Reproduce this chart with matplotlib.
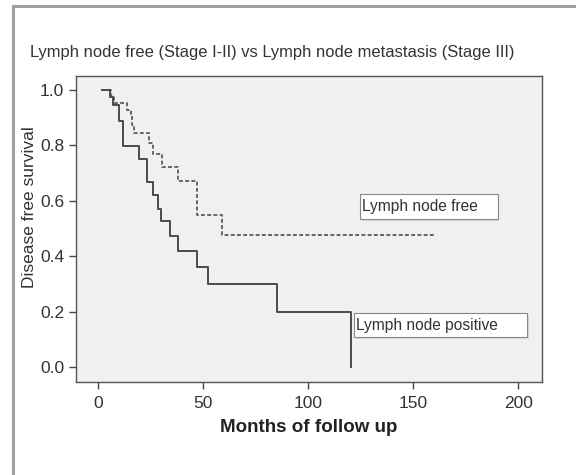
import matplotlib
matplotlib.use("Agg")
import matplotlib.pyplot as plt
from matplotlib.lines import Line2D
from matplotlib.patches import Rectangle

plt.rcParams['font.family'] = ['Liberation Sans', 'DejaVu Sans']

# Kaplan-Meier steps (months, survival)
free_months = [2, 6, 7.5, 13.5, 15.4, 16.2, 17.1, 24.2, 26.2, 30.2, 38.1, 46.8, 59.0, 160]
free_surv = [1.0, 0.977, 0.954, 0.928, 0.904, 0.874, 0.843, 0.807, 0.769, 0.721, 0.671, 0.549, 0.477, 0.477]

pos_months = [2, 5.6, 7.2, 9.9, 11.9, 19.4, 23.3, 25.9, 28.3, 29.9, 34.1, 38.1, 47.1, 52.1, 85.2, 120.2]
pos_surv = [1.0, 0.976, 0.946, 0.886, 0.796, 0.75, 0.667, 0.62, 0.57, 0.527, 0.473, 0.42, 0.36, 0.30, 0.20, 0.0]

xticks = [0, 50, 100, 150, 200]
yticks = [0.0, 0.2, 0.4, 0.6, 0.8, 1.0]

title = "Lymph node free (Stage I-II) vs Lymph node metastasis (Stage III)"
txt = '#333333'

fig = plt.figure(figsize=(5.76, 4.75), dpi=100)
ax = fig.add_axes([0.132, 0.196, 0.809, 0.644])
ax.set_facecolor('#f0f0f0')

ax.step(free_months, free_surv, where='post', color='#666666', lw=1.4,
        linestyle=(0, (2, 1.2)))
ax.step(pos_months, pos_surv, where='post', color='#4a4a4a', lw=1.4)

ax.set_xlim(-10.6, 211.3)
ax.set_ylim(-0.054, 1.05)
ax.set_xticks(xticks)
ax.set_yticks(yticks)
ax.set_yticklabels([f"{v:.1f}" for v in yticks])
ax.tick_params(colors='#444444', labelcolor=txt, labelsize=12.5, length=5, width=1)
ax.tick_params(axis='x', pad=5)
for s in ax.spines.values():
    s.set_color('#555555')
    s.set_linewidth(1)

ax.set_xlabel("Months of follow up", fontsize=13.5, fontweight='bold', color='#222222', labelpad=6)
ax.set_ylabel("Disease free survival", fontsize=12.5, color=txt)
ax.yaxis.set_label_coords(-0.083, 0.57)

# label boxes
def label_box(x, y, w, h, s):
    ax.add_patch(Rectangle((x + 0.003, y - 0.006), w, h, transform=ax.transAxes,
                           facecolor='#d8d8d8', edgecolor='none', zorder=4))
    ax.add_patch(Rectangle((x, y), w, h, transform=ax.transAxes,
                           facecolor='white', edgecolor='#888888', lw=0.8, zorder=5))
    ax.text(x + 0.004, y + h / 2, s, transform=ax.transAxes, fontsize=11.2,
            color=txt, va='center', ha='left', zorder=6)

label_box(0.609, 0.533, 0.296, 0.082, "Lymph node free")
label_box(0.597, 0.147, 0.371, 0.078, "Lymph node positive")

fig.text(0.052, 0.89, title, fontsize=11.9, color=txt, va='center', ha='left')

# outer frame
fig.add_artist(Line2D([0.022, 0.022], [0, 0.987], transform=fig.transFigure, color='#a0a0a0', lw=2.2))
fig.add_artist(Line2D([0.022, 1.0], [0.987, 0.987], transform=fig.transFigure, color='#a0a0a0', lw=2.2))

fig.savefig("out.png", dpi=100, facecolor='white')
